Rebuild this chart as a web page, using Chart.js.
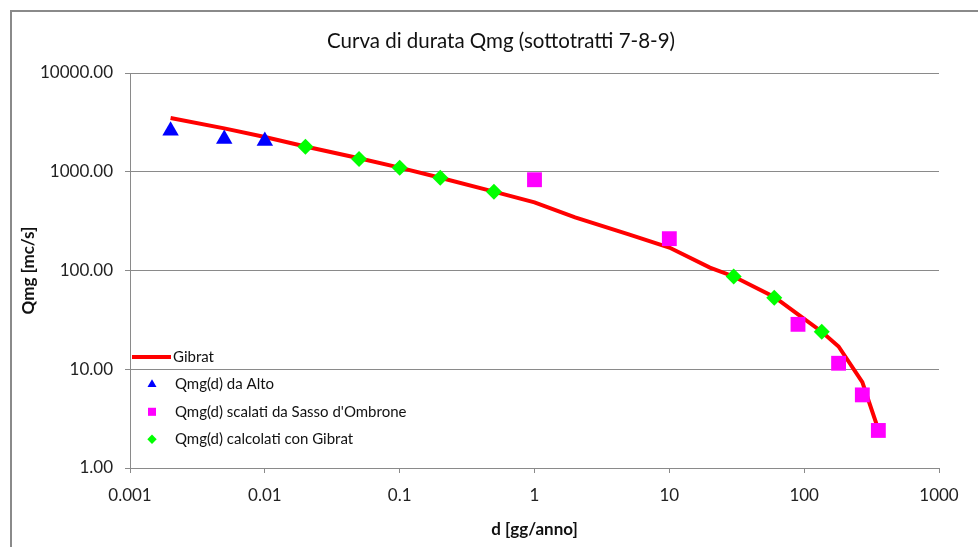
<!DOCTYPE html>
<html>
<head>
<meta charset="utf-8">
<script src="https://cdn.jsdelivr.net/npm/chart.js@4.4.1/dist/chart.umd.min.js"></script>
<style>
  html, body { margin: 0; padding: 0; background: #fff; overflow: hidden; }
  #frame { position: absolute; left: 10px; top: 10px; width: 2000px; height: 2000px; border: 2px solid #8a8a8a; }
  #chart { position: absolute; left: 0; top: 0; }
</style>
</head>
<body>
<div id="frame"></div>
<canvas id="chart" width="978" height="547"></canvas>
<script>
// duration curve values
var gibratD = [0.002, 0.005, 0.01, 0.02, 0.05, 0.1, 0.2, 0.5, 1, 2, 5, 10, 20, 30, 60, 90, 135, 180, 270, 350]
var gibratQ = [3500, 2750, 2250, 1800, 1370, 1100, 870, 630, 490, 345, 232, 171, 107, 87, 54, 36, 24, 17, 7.4, 2.6]

var altoD = [0.002, 0.005, 0.01]
var altoQ = [2600, 2150, 2050]

var sassoD = [1, 10, 90, 180, 270, 355]
var sassoQ = [830, 210, 28.5, 11.5, 5.5, 2.4]

var calcD = [0.02, 0.05, 0.1, 0.2, 0.5, 30, 60, 135]
var calcQ = [1790, 1350, 1100, 870, 628, 87, 53, 24]

var xTicks = [0.001, 0.01, 0.1, 1, 10, 100, 1000]
var yTicks = [1, 10, 100, 1000, 10000]

var chartTitle = 'Curva di durata Qmg (sottotratti 7-8-9)'

var FONT = 'Lato, sans-serif'
var GRAY = '#8a8a8a'

function pts(xs, ys) {
	return xs.map((x, i) => ({x: x, y: ys[i]}))
}

// title centred on the whole frame (excel style), not on the plot
var frameTitle = {
	id: 'frameTitle',
	afterDraw(chart) {
		var ctx = chart.ctx
		ctx.save()
		ctx.font = '20.5px ' + FONT
		ctx.fillStyle = '#111'
		ctx.textAlign = 'center'
		ctx.textBaseline = 'middle'
		ctx.fillText(chartTitle, 501, 41)
		ctx.restore()
	}
}

// legend drawn inside the plot, bottom-left, like the original
var legendRadius = [0, 5.2, 5.7, 4.7]
var insideLegend = {
	id: 'insideLegend',
	afterDraw(chart) {
		var ctx = chart.ctx
		var area = chart.chartArea
		var x0 = area.left + 2
		var y0 = area.bottom - 111
		ctx.save()
		ctx.font = '15px ' + FONT
		ctx.textBaseline = 'middle'
		chart.data.datasets.forEach((ds, i) => {
			var y = y0 + i * 27.4
			if (ds.type === 'line') {
				ctx.strokeStyle = ds.borderColor
				ctx.lineWidth = ds.borderWidth
				ctx.beginPath()
				ctx.moveTo(x0, y)
				ctx.lineTo(x0 + 39, y)
				ctx.stroke()
			} else {
				ctx.fillStyle = ds.backgroundColor
				Chart.helpers.drawPoint(ctx, {pointStyle: ds.pointStyle, radius: legendRadius[i], borderWidth: 0}, x0 + 20, y)
			}
			ctx.fillStyle = '#111'
			ctx.fillText(ds.label, x0 + (i === 0 ? 41 : 43), y)
		})
		ctx.restore()
	}
}

new Chart(document.getElementById('chart'), {
	type: 'scatter',
	data: {
		datasets: [{
			type: 'line',
			label: 'Gibrat',
			data: pts(gibratD, gibratQ),
			borderColor: '#ff0000',
			borderWidth: 4,
			pointRadius: 0,
			tension: 0,
			order: 1
		}, {
			label: 'Qmg(d) da Alto',
			data: pts(altoD, altoQ),
			pointStyle: 'triangle',
			pointRadius: 9.5,
			backgroundColor: '#0000ff',
			borderWidth: 0,
			order: 0
		}, {
			label: "Qmg(d) scalati da Sasso d'Ombrone",
			data: pts(sassoD, sassoQ),
			pointStyle: 'rect',
			pointRadius: 10.5,
			backgroundColor: '#ff00ff',
			borderWidth: 0,
			order: 0
		}, {
			label: 'Qmg(d) calcolati con Gibrat',
			data: pts(calcD, calcQ),
			pointStyle: 'rectRot',
			pointRadius: 8,
			backgroundColor: '#00ff00',
			borderWidth: 0,
			order: 0
		}]
	},
	options: {
		responsive: false,
		animation: false,
		layout: {padding: {left: 12, right: 39, top: 73, bottom: 0}},
		plugins: {
			legend: {display: false},
			tooltip: {enabled: false},
			title: {display: false}
		},
		scales: {
			x: {
				type: 'logarithmic',
				min: 0.001,
				max: 1000,
				afterBuildTicks: s => { s.ticks = xTicks.map(v => ({value: v})) },
				afterFit: s => { s.height = 79 },
				ticks: {
					callback: v => String(v),
					color: '#222',
					font: {family: FONT, size: 17},
					padding: 12,
					maxRotation: 0,
					autoSkip: false
				},
				grid: {drawOnChartArea: false, tickLength: 5, color: GRAY},
				border: {color: GRAY},
				title: {
					display: true,
					text: 'd [gg/anno]',
					color: '#111',
					font: {family: FONT, size: 17, weight: 'bold'},
					padding: {bottom: 7}
				}
			},
			y: {
				type: 'logarithmic',
				min: 1,
				max: 10000,
				afterBuildTicks: s => { s.ticks = yTicks.map(v => ({value: v})) },
				afterFit: s => { s.width = 118 },
				ticks: {
					callback: v => Number(v).toFixed(2),
					color: '#222',
					font: {family: FONT, size: 17},
					padding: 12
				},
				grid: {tickLength: 5, color: GRAY},
				border: {color: GRAY},
				title: {
					display: true,
					text: 'Qmg [mc/s]',
					color: '#111',
					font: {family: FONT, size: 17, weight: 'bold'},
					padding: {top: 6}
				}
			}
		}
	},
	plugins: [frameTitle, insideLegend]
})
</script>
</body>
</html>
